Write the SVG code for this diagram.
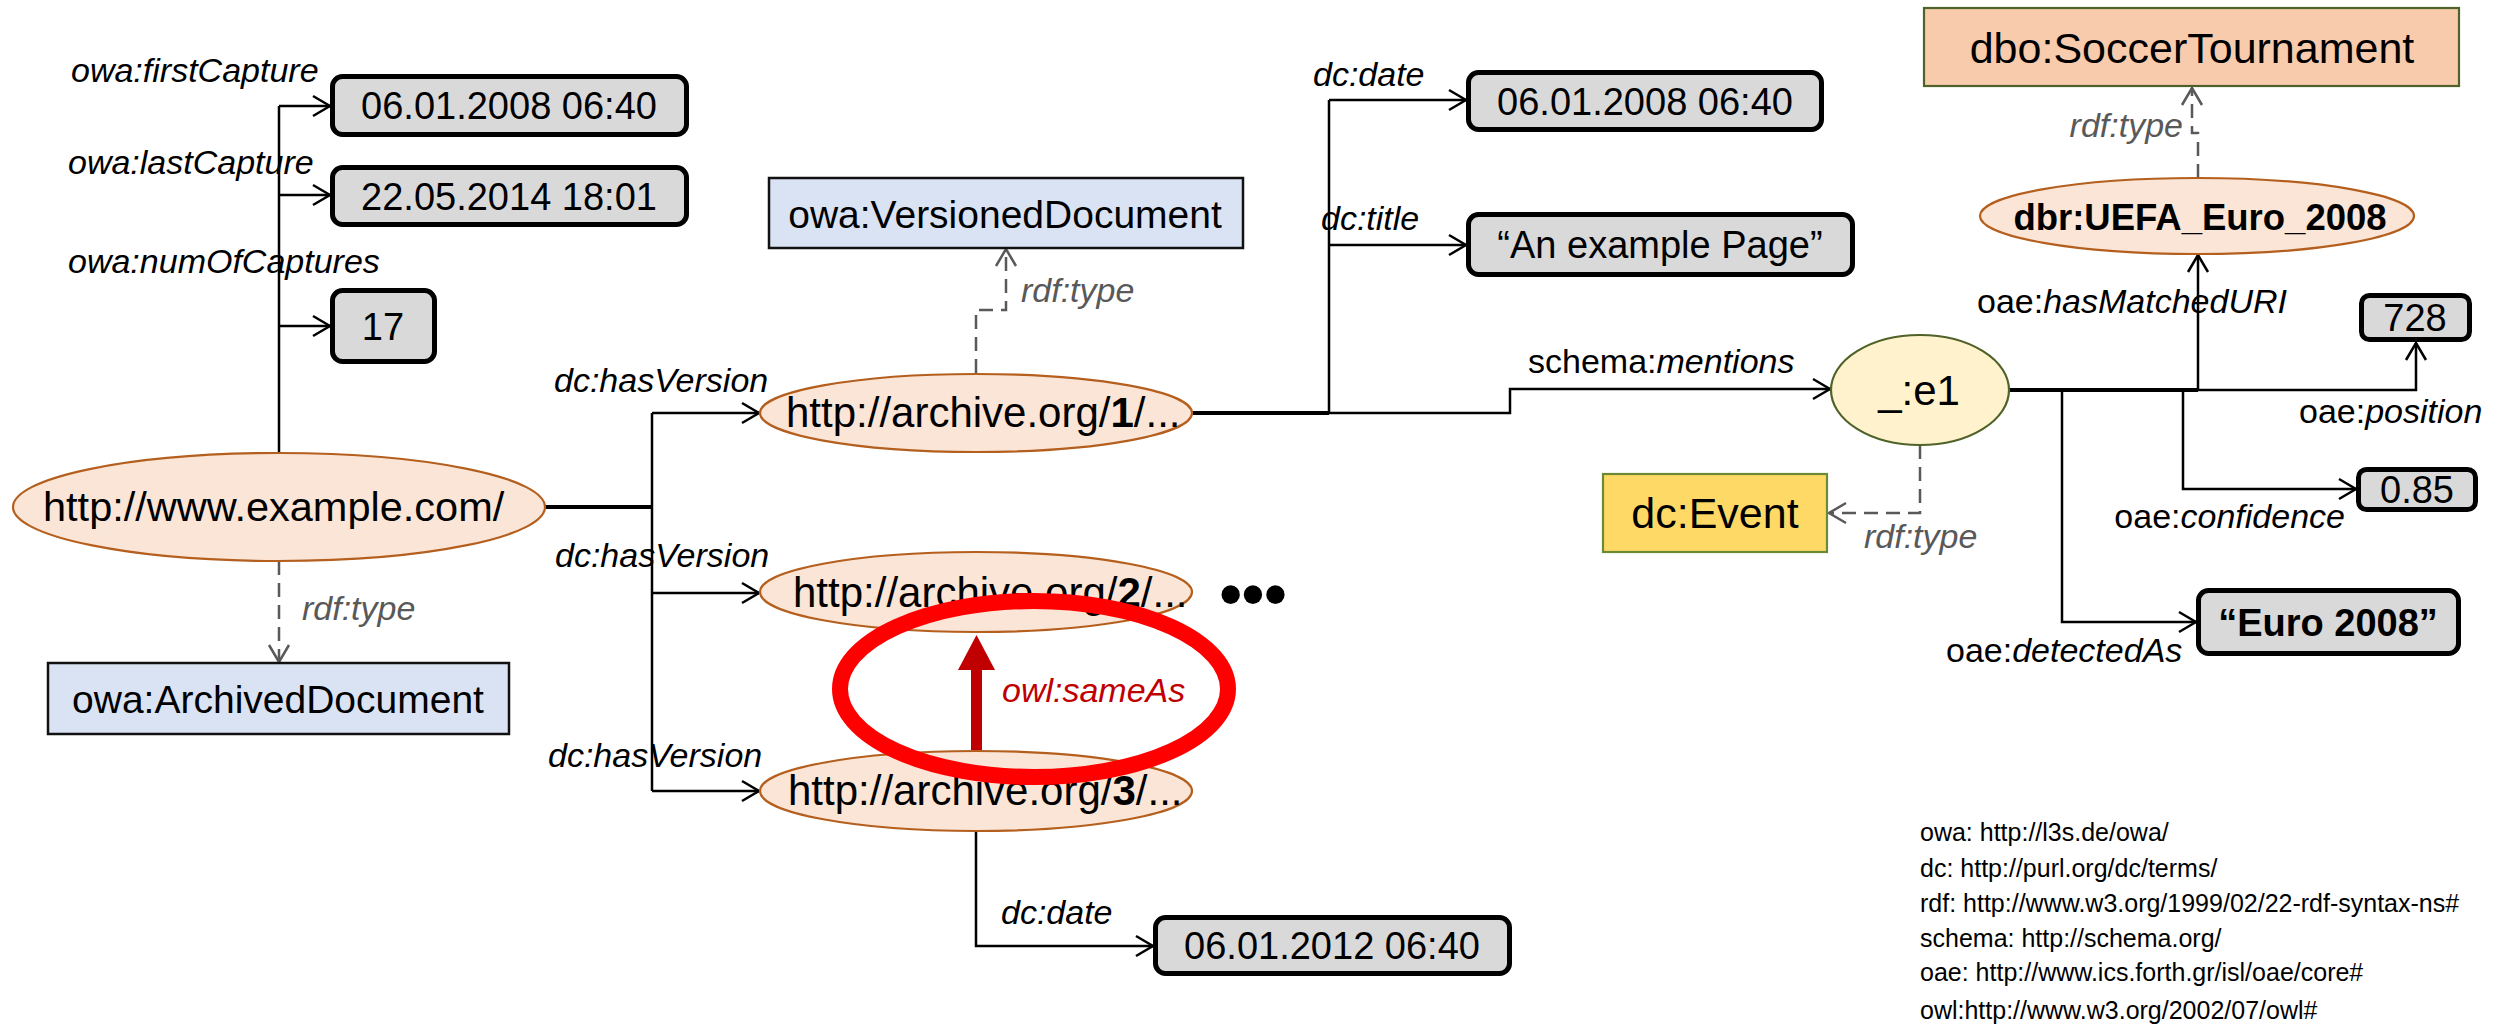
<svg xmlns="http://www.w3.org/2000/svg" width="2501" height="1027" viewBox="0 0 2501 1027">
<defs>
<style>
text{font-family:"Liberation Sans",Arial,sans-serif;fill:#000}
.lbl{font-size:34px;font-style:italic}
.up{font-style:normal}
.typ{font-size:34px;font-style:italic;fill:#595959}
.val{font-size:38px;text-anchor:middle}
.uri{fill:#fbe5d6;stroke:#b45f1e;stroke-width:2.2}
.lit{fill:#d9d9d9;stroke:#000;stroke-width:5}
.cls{fill:#dae3f3;stroke:#111;stroke-width:2.5}
.ln{fill:none;stroke:#000;stroke-width:2.5}
.trunk{fill:none;stroke:#000;stroke-width:4}
.dash{fill:none;stroke:#595959;stroke-width:2.5;stroke-dasharray:14 8}
.ns{font-size:25px}
</style>
<marker id="arr" viewBox="-20 -12 22 24" refX="0" refY="0" markerWidth="22" markerHeight="24" markerUnits="userSpaceOnUse" orient="auto">
<path d="M-17,-10 L0,0 L-17,10" fill="none" stroke="#000" stroke-width="2.5"/>
</marker>
<marker id="arrg" viewBox="-20 -12 22 24" refX="0" refY="0" markerWidth="22" markerHeight="24" markerUnits="userSpaceOnUse" orient="auto">
<path d="M-17,-10 L0,0 L-17,10" fill="none" stroke="#595959" stroke-width="2.5"/>
</marker>
</defs>
<rect width="2501" height="1027" fill="#fff"/>

<!-- edges -->
<g id="connectors">
<!-- capture properties -->
<path class="ln" d="M279,452 V106"/>
<path class="ln" d="M279,106 H330" marker-end="url(#arr)"/>
<path class="ln" d="M279,195 H330" marker-end="url(#arr)"/>
<path class="ln" d="M279,326 H330" marker-end="url(#arr)"/>
<path class="dash" d="M279,561 V662" marker-end="url(#arrg)"/>
<!-- versions -->
<path class="trunk" d="M545,507 H652"/>
<path class="ln" d="M652,413 V791"/>
<path class="ln" d="M652,413 H759" marker-end="url(#arr)"/>
<path class="ln" d="M652,593 H759" marker-end="url(#arr)"/>
<path class="ln" d="M652,791 H759" marker-end="url(#arr)"/>
<!-- version 1 properties -->
<path class="trunk" d="M1192,413 H1329"/>
<path class="ln" d="M1329,413 V100"/>
<path class="ln" d="M1329,100 H1466" marker-end="url(#arr)"/>
<path class="ln" d="M1329,245 H1466" marker-end="url(#arr)"/>
<path class="ln" d="M1329,413 H1510 V389 H1830" marker-end="url(#arr)"/>
<path class="dash" d="M976,373 V310 H1006 V249" marker-end="url(#arrg)"/>
<!-- version 3 date -->
<path class="ln" d="M976,831 V946 H1153" marker-end="url(#arr)"/>
<!-- entity properties -->
<path class="trunk" d="M2009,390 H2198"/>
<path class="ln" d="M2198,390 H2416 V343" marker-end="url(#arr)"/>
<path class="ln" d="M2198,390 V255" marker-end="url(#arr)"/>
<path class="ln" d="M2183,390 V489 H2356" marker-end="url(#arr)"/>
<path class="ln" d="M2062,390 V622 H2196" marker-end="url(#arr)"/>
<path class="dash" d="M1920,445 V513 H1829" marker-end="url(#arrg)"/>
<path class="dash" d="M2198,178 V133 H2192 V88" marker-end="url(#arrg)"/>

<!-- edge labels -->
<text class="lbl" x="71" y="82">owa:firstCapture</text>
<text class="lbl" x="68" y="174">owa:lastCapture</text>
<text class="lbl" x="68" y="273">owa:numOfCaptures</text>
<text class="typ" x="302" y="620">rdf:type</text>
<text class="lbl" x="554" y="392">dc:hasVersion</text>
<text class="lbl" x="555" y="567">dc:hasVersion</text>
<text class="lbl" x="548" y="767">dc:hasVersion</text>
<text class="lbl" x="1313" y="86">dc:date</text>
<text class="lbl" x="1321" y="230">dc:title</text>
<text class="typ" x="1021" y="302">rdf:type</text>
<text class="lbl" x="1528" y="373"><tspan class="up">schema:</tspan>mentions</text>
<text class="lbl" x="1001" y="924">dc:date</text>
<text class="lbl" x="1977" y="313"><tspan class="up">oae:</tspan>hasMatchedURI</text>
<text class="typ" x="2183" y="137" text-anchor="end">rdf:type</text>
<text class="lbl" x="2299" y="423"><tspan class="up">oae:</tspan>position</text>
<text class="lbl" x="2345" y="528" text-anchor="end"><tspan class="up">oae:</tspan>confidence</text>
<text class="typ" x="1864" y="548">rdf:type</text>
<text class="lbl" x="1946" y="662"><tspan class="up">oae:</tspan>detectedAs</text>
</g>

<!-- nodes -->
<g id="example-com">
<ellipse class="uri" cx="279" cy="507" rx="266" ry="54"/>
<text x="43" y="521" font-size="41.5">http://www.example.com/</text>
</g>
<g id="first-capture">
<rect class="lit" x="332.5" y="76.5" width="354" height="58" rx="10"/>
<text class="val" x="509" y="119">06.01.2008 06:40</text>
</g>
<g id="last-capture">
<rect class="lit" x="332.5" y="167.5" width="354" height="57" rx="10"/>
<text class="val" x="509" y="210">22.05.2014 18:01</text>
</g>
<g id="num-captures">
<rect class="lit" x="332.5" y="290.5" width="102" height="71" rx="10"/>
<text class="val" x="383" y="340">17</text>
</g>
<g id="archived-document">
<rect class="cls" x="48" y="663" width="461" height="71"/>
<text x="278" y="713" font-size="39" text-anchor="middle">owa:ArchivedDocument</text>
</g>
<g id="versioned-document">
<rect class="cls" x="769" y="178" width="474" height="70"/>
<text x="1005" y="228" font-size="39" text-anchor="middle">owa:VersionedDocument</text>
</g>
<g id="archive-1">
<ellipse class="uri" cx="976" cy="413" rx="216" ry="39"/>
<text x="786" y="427" font-size="42">http://archive.org/<tspan font-weight="bold">1</tspan>/...</text>
</g>
<g id="archive-2">
<ellipse class="uri" cx="976" cy="592" rx="216" ry="40"/>
<text x="793" y="607" font-size="42">http://archive.org/<tspan font-weight="bold">2</tspan>/...</text>
</g>
<text id="more-versions" x="1253" y="616" font-size="64" font-weight="bold" text-anchor="middle">•••</text>
<g id="archive-3">
<ellipse class="uri" cx="976" cy="791" rx="216" ry="40"/>
<text x="788" y="805" font-size="42">http://archive.org/<tspan font-weight="bold">3</tspan>/...</text>
</g>
<g id="date-1">
<rect class="lit" x="1468.5" y="72.5" width="353" height="57" rx="10"/>
<text class="val" x="1645" y="115">06.01.2008 06:40</text>
</g>
<g id="title-1">
<rect class="lit" x="1468.5" y="214.5" width="384" height="60" rx="10"/>
<text class="val" x="1660" y="258">“An example Page”</text>
</g>
<g id="date-3">
<rect class="lit" x="1155.5" y="917.5" width="354" height="56" rx="10"/>
<text class="val" x="1332" y="959">06.01.2012 06:40</text>
</g>
<g id="entity-e1">
<ellipse cx="1920" cy="390" rx="89" ry="55" fill="#fff2cc" stroke="#4f6228" stroke-width="2.2"/>
<text x="1919" y="405" font-size="42" text-anchor="middle">_:e1</text>
</g>
<g id="dc-event">
<rect x="1603" y="474" width="224" height="78" fill="#ffd966" stroke="#6b8a34" stroke-width="2.2"/>
<text x="1715" y="528" font-size="43" text-anchor="middle">dc:Event</text>
</g>
<g id="soccer-tournament">
<rect x="1924" y="8" width="535" height="78" fill="#f8cbad" stroke="#4f6228" stroke-width="2.2"/>
<text x="2192" y="63" font-size="43" text-anchor="middle">dbo:SoccerTournament</text>
</g>
<g id="uefa-euro-2008">
<ellipse class="uri" cx="2197" cy="216" rx="217" ry="38"/>
<text x="2200" y="230" font-size="36.5" font-weight="bold" text-anchor="middle">dbr:UEFA_Euro_2008</text>
</g>
<g id="position">
<rect class="lit" x="2361.5" y="295.5" width="108" height="44" rx="8"/>
<text class="val" x="2415" y="331">728</text>
</g>
<g id="confidence">
<rect class="lit" x="2358.5" y="469.5" width="117" height="40" rx="8"/>
<text class="val" x="2417" y="503">0.85</text>
</g>
<g id="detected-as">
<rect class="lit" x="2198.5" y="590.5" width="260" height="63" rx="10"/>
<text class="val" x="2328" y="636" font-weight="bold">“Euro 2008”</text>
</g>

<!-- owl:sameAs highlight -->
<g id="same-as">
<rect x="971" y="668" width="11" height="82" fill="#c00000"/>
<polygon points="958,670 976.5,635 995,670" fill="#c00000"/>
<text x="1002" y="702" font-size="34" font-style="italic" fill="#c00000" style="fill:#c00000">owl:sameAs</text>
<ellipse cx="1034" cy="689" rx="194" ry="88" fill="none" stroke="#ff0000" stroke-width="16"/>
</g>

<!-- namespace prefixes -->
<g id="namespaces" class="ns">
<text class="ns" x="1920" y="841">owa: http://l3s.de/owa/</text>
<text class="ns" x="1920" y="877">dc: http://purl.org/dc/terms/</text>
<text class="ns" x="1920" y="912">rdf: http://www.w3.org/1999/02/22-rdf-syntax-ns#</text>
<text class="ns" x="1920" y="947">schema: http://schema.org/</text>
<text class="ns" x="1920" y="981">oae: http://www.ics.forth.gr/isl/oae/core#</text>
<text class="ns" x="1920" y="1019">owl:http://www.w3.org/2002/07/owl#</text>
</g>
</svg>
